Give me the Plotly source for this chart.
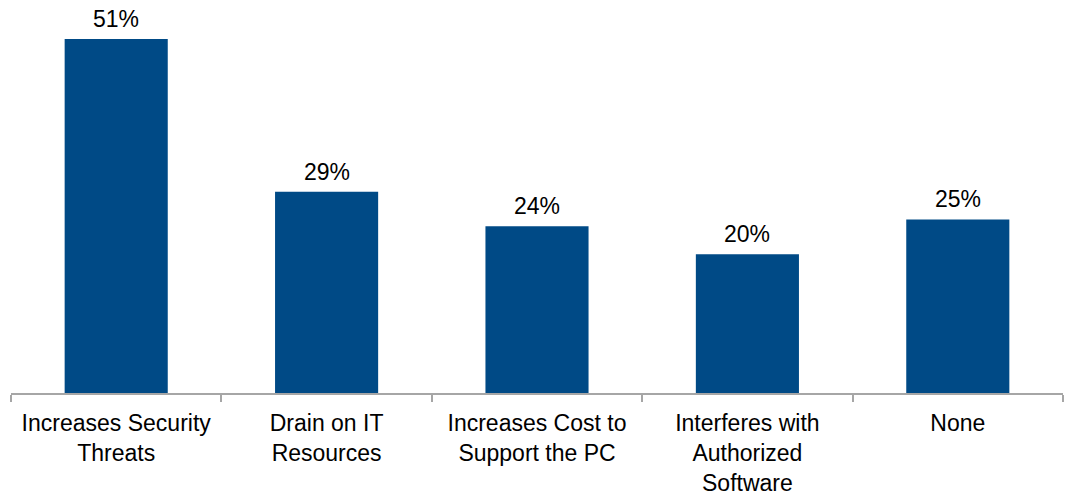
import plotly.graph_objects as go

categories = ["Increases Security<br>Threats", "Drain on IT<br>Resources",
              "Increases Cost to<br>Support the PC", "Interferes with<br>Authorized<br>Software", "None"]
values = [51, 29, 24, 20, 25]
value_labels = ["51%", "29%", "24%", "20%", "25%"]

fig = go.Figure()
fig.add_trace(go.Bar(x=categories, y=values, marker=dict(color="#004A86", line=dict(width=0)),
                     width=0.49, hoverinfo="skip"))

for c, v, t in zip(categories, values, value_labels):
    fig.add_annotation(x=c, y=v, text=t, showarrow=False, yanchor="bottom", yshift=5,
                       font=dict(family="Liberation Sans, Arial, sans-serif", size=23, color="#000000"))

fig.update_layout(
    width=1065, height=495,
    margin=dict(l=11, r=2, t=0, b=102, autoexpand=False),
    plot_bgcolor="white", paper_bgcolor="white",
    showlegend=False,
    bargap=0.51,
    font=dict(family="Liberation Sans, Arial, sans-serif", size=23, color="#000000"),
)
fig.update_xaxes(showline=True, linecolor="#A6A6A6", linewidth=1.5, automargin=False,
                 ticks="outside", tickson="boundaries", ticklen=7, tickcolor="#A6A6A6", tickwidth=1.5,
                 ticklabelstandoff=9,
                 tickfont=dict(size=23, color="#000000"), showgrid=False)
fig.update_yaxes(range=[0, 56.6], visible=False, showgrid=False, zeroline=False, automargin=False)

fig.write_html("out.html", config={"displayModeBar": False},
               post_script="document.body.style.margin='0';document.body.style.overflow='hidden';")
